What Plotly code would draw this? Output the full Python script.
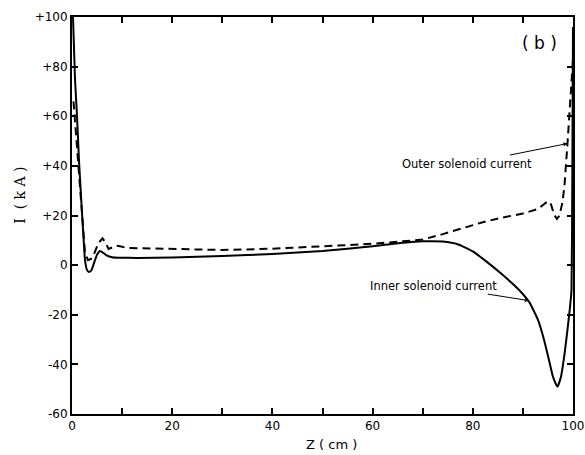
import plotly.graph_objects as go

# Axial position along the device (cm)
z_inner = [0.2, 0.6, 1.0, 1.4, 2.0, 2.6, 3.0, 3.4, 3.9, 4.5, 5.0, 5.6, 6.2, 7.0, 8.0,
           9.3, 13, 20, 30, 40, 50, 60, 66, 70, 74, 77, 80, 83, 86, 89, 91.3, 93,
           94, 95, 96, 96.9, 97.6, 98.3, 98.9, 99.4, 99.7, 99.85, 100]
# Inner solenoid current (kA)
i_inner = [100, 75, 60, 42, 21, 2, -2, -2.8, -2.0, 1.5, 4.2, 5.7, 5.0, 3.8, 3.2,
           3.0, 2.9, 3.1, 3.7, 4.5, 5.7, 7.6, 9.0, 9.6, 9.5, 8.4, 5.5, 1.0, -4.0, -9.5, -15, -22,
           -28.5, -36.5, -45, -49, -45, -36, -26, -17, -10, 30, 96]

z_outer = [0.3, 0.6, 1.0, 1.4, 2.0, 2.6, 3.2, 3.8, 4.5, 5.3, 6.1, 6.7, 7.3, 8.0, 8.8,
           9.6, 11, 16, 30, 40, 50, 60, 66, 70, 74, 78, 82, 86, 90, 93, 94.3, 95,
           95.6, 96.2, 96.8, 97.3, 97.9, 98.3, 98.9, 99.4, 99.9, 100]
# Outer solenoid current (kA)
i_outer = [66, 58, 50, 40, 22, 5, 2, 2.5, 5, 9, 10.8, 9, 6.5, 7.0, 7.8,
           7.6, 6.9, 6.7, 6.1, 6.6, 7.5, 8.6, 9.6, 10.3, 12.5, 15, 17.3, 19.2, 20.8, 22.6, 24.5, 25.8,
           24.5, 20.5, 18.6, 20, 25.3, 32, 49, 63, 76, 83]

x_ticks = [0, 10, 20, 30, 40, 50, 60, 70, 80, 90, 100]
x_labels = ["0", "", "20", "", "40", "", "60", "", "80", "", "100"]
y_ticks = [-60, -40, -20, 0, 20, 40, 60, 80, 100]
y_labels = ["-60", "-40", "-20", "0", "+20", "+40", "+60", "+80", "+100"]

fig = go.Figure()
fig.add_trace(go.Scatter(x=z_outer, y=i_outer, mode="lines",
                         line=dict(color="black", width=2, dash="8px,5px"),
                         showlegend=False))
fig.add_trace(go.Scatter(x=z_inner, y=i_inner, mode="lines",
                         line=dict(color="black", width=2, shape="spline", smoothing=0.4),
                         showlegend=False))

tick_font = dict(family="DejaVu Sans", size=12, color="black")
fig.update_xaxes(range=[0, 100], tickvals=x_ticks, ticktext=x_labels, automargin=False,
                 ticks="inside", ticklen=6, tickwidth=1.5, tickcolor="black",
                 showline=True, linecolor="black", linewidth=2, mirror="ticks",
                 showgrid=False, zeroline=False, tickfont=tick_font)
fig.update_yaxes(range=[-60, 100], tickvals=y_ticks, ticktext=y_labels, automargin=False,
                 ticks="inside", ticklen=6, tickwidth=1.5, tickcolor="black",
                 showline=True, linecolor="black", linewidth=2, mirror="ticks",
                 showgrid=False, zeroline=False, tickfont=tick_font)

ann_font = dict(family="DejaVu Sans", size=11.5, color="black")
fig.update_layout(
    width=585, height=455,
    margin=dict(l=72, r=12, t=17, b=41),
    paper_bgcolor="white", plot_bgcolor="white",
    annotations=[
        dict(x=98.9, y=49, xref="x", yref="y", text="Outer solenoid current",
             showarrow=True, ax=-100, ay=20, arrowhead=2, arrowsize=0.8,
             arrowwidth=1, arrowcolor="black", font=ann_font),
        dict(x=91.2, y=-14.3, xref="x", yref="y", text="Inner solenoid current",
             showarrow=True, ax=-95, ay=-15, arrowhead=2, arrowsize=0.8,
             arrowwidth=1, arrowcolor="black", font=ann_font),
        dict(x=0.934, y=0.934, xref="paper", yref="paper", text="( b )",
             xanchor="center", yanchor="middle", showarrow=False,
             font=dict(family="DejaVu Sans", size=17, color="black")),
        dict(x=-0.104, y=0.552, xref="paper", yref="paper", text="I  ( k A )",
             xanchor="center", yanchor="middle", textangle=-90, showarrow=False,
             font=dict(family="DejaVu Serif", size=14, color="black")),
        dict(x=0.517, y=-0.076, xref="paper", yref="paper", text="Z ( cm )",
             xanchor="center", yanchor="middle", showarrow=False,
             font=dict(family="DejaVu Sans", size=13, color="black")),
    ],
)

fig.write_html("out.html")
